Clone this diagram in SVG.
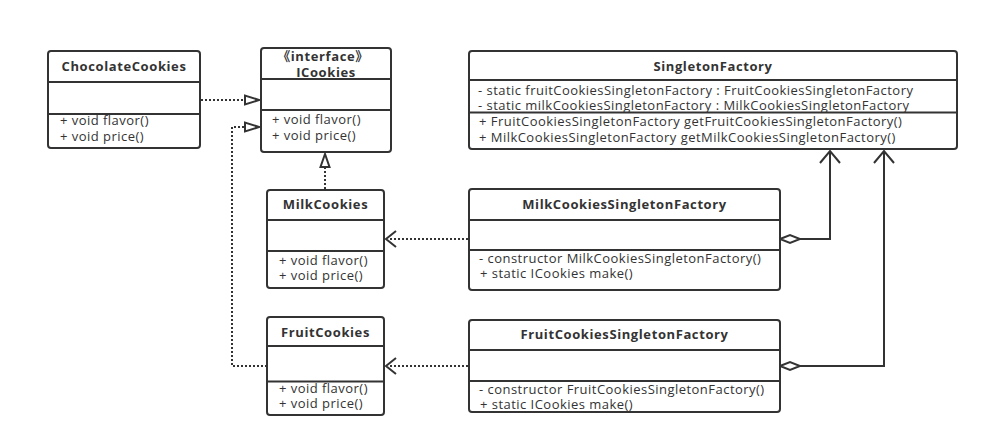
<svg xmlns="http://www.w3.org/2000/svg" width="989" height="447" viewBox="0 0 989 447">
<defs>
<style>
.box{fill:#fff;stroke:#333;stroke-width:2}
.div{stroke:#333;stroke-width:2}
.t{font-family:"Open Sans","Noto Sans CJK SC",sans-serif;font-size:13px;letter-spacing:0.47px;fill:#333}
.b{font-family:"Open Sans","Noto Sans CJK SC",sans-serif;font-size:13px;letter-spacing:0.6px;font-weight:bold;fill:#333;text-anchor:middle}
.dot{fill:none;stroke:#333;stroke-width:2;stroke-dasharray:2 2}
.sol{fill:none;stroke:#333;stroke-width:2}
.head{fill:#fff;stroke:#333;stroke-width:2}
</style>
</defs>
<rect width="989" height="447" fill="#fff"/>
<g id="connectors">
<path class="dot" d="M201 100 H246"/>
<polygon class="head" points="259,100 245,95.5 245,104.5"/>
<path class="dot" d="M267 366 H232 V127 H246"/>
<polygon class="head" points="259,127 245,122.5 245,131.5"/>
<path class="dot" d="M325 189 V167"/>
<polygon class="head" points="325,154 320.5,167 329.5,167"/>
<path class="dot" d="M468 239 H388"/>
<path class="sol" d="M396 231 L386 239 L396 247"/>
<path class="dot" d="M468 366 H388"/>
<path class="sol" d="M396 358 L386 366 L396 374"/>
<path class="sol" d="M800 239 H830 V151"/>
<polygon class="head" points="780,239 790,235 800,239 790,243"/>
<path class="sol" d="M820 163 L830 151 L840 163"/>
<path class="sol" d="M800 366 H884 V151"/>
<polygon class="head" points="780,366 790,362 800,366 790,370"/>
<path class="sol" d="M874 163 L884 151 L894 163"/>
</g>
<g id="ChocolateCookies">
<rect class="box" x="48" y="51" width="152" height="97" rx="3"/>
<line class="div" x1="48" y1="82" x2="200" y2="82"/>
<line class="div" x1="48" y1="114" x2="200" y2="114"/>
<text class="b" x="124" y="71">ChocolateCookies</text>
<text class="t" x="60" y="125">+ void flavor()</text>
<text class="t" x="60" y="141">+ void price()</text>
</g>
<g id="ICookies">
<rect class="box" x="261" y="48" width="130" height="104" rx="3"/>
<line class="div" x1="261" y1="79" x2="391" y2="79"/>
<line class="div" x1="261" y1="110" x2="391" y2="110"/>
<text class="b" x="323" y="61">《interface》</text>
<text class="b" x="326" y="77">ICookies</text>
<text class="t" x="272" y="123.5">+ void flavor()</text>
<text class="t" x="272" y="139.5">+ void price()</text>
</g>
<g id="MilkCookies">
<rect class="box" x="267" y="190" width="117" height="98" rx="3"/>
<line class="div" x1="267" y1="220" x2="384" y2="220"/>
<line class="div" x1="267" y1="251" x2="384" y2="251"/>
<text class="b" x="325.5" y="209">MilkCookies</text>
<text class="t" x="279" y="264.5">+ void flavor()</text>
<text class="t" x="279" y="280">+ void price()</text>
</g>
<g id="FruitCookies">
<rect class="box" x="267" y="317" width="117" height="98" rx="3"/>
<line class="div" x1="267" y1="346" x2="384" y2="346"/>
<line class="div" x1="267" y1="381.5" x2="384" y2="381.5"/>
<text class="b" x="325.5" y="337">FruitCookies</text>
<text class="t" x="279" y="392.5">+ void flavor()</text>
<text class="t" x="279" y="408">+ void price()</text>
</g>
<g id="SingletonFactory">
<rect class="box" x="469" y="51" width="488" height="98" rx="3"/>
<line class="div" x1="469" y1="80" x2="957" y2="80"/>
<line class="div" x1="469" y1="112.5" x2="957" y2="112.5"/>
<text class="b" x="713" y="71">SingletonFactory</text>
<text class="t" x="478" y="94.5">- static fruitCookiesSingletonFactory : FruitCookiesSingletonFactory</text>
<text class="t" x="478" y="109.5">- static milkCookiesSingletonFactory : MilkCookiesSingletonFactory</text>
<text class="t" x="479" y="126">+ FruitCookiesSingletonFactory getFruitCookiesSingletonFactory()</text>
<text class="t" x="479" y="141.5">+ MilkCookiesSingletonFactory getMilkCookiesSingletonFactory()</text>
</g>
<g id="MilkCookiesSingletonFactory">
<rect class="box" x="469" y="189" width="311" height="101" rx="3"/>
<line class="div" x1="469" y1="220" x2="780" y2="220"/>
<line class="div" x1="469" y1="250" x2="780" y2="250"/>
<text class="b" x="624.5" y="208.5">MilkCookiesSingletonFactory</text>
<text class="t" x="479" y="262.5">- constructor MilkCookiesSingletonFactory()</text>
<text class="t" x="480" y="277.5">+ static ICookies make()</text>
</g>
<g id="FruitCookiesSingletonFactory">
<rect class="box" x="469" y="320" width="311" height="92" rx="3"/>
<line class="div" x1="469" y1="350" x2="780" y2="350"/>
<line class="div" x1="469" y1="381" x2="780" y2="381"/>
<text class="b" x="624.5" y="339">FruitCookiesSingletonFactory</text>
<text class="t" x="479" y="393.5">- constructor FruitCookiesSingletonFactory()</text>
<text class="t" x="480" y="408.5">+ static ICookies make()</text>
</g>
</svg>
